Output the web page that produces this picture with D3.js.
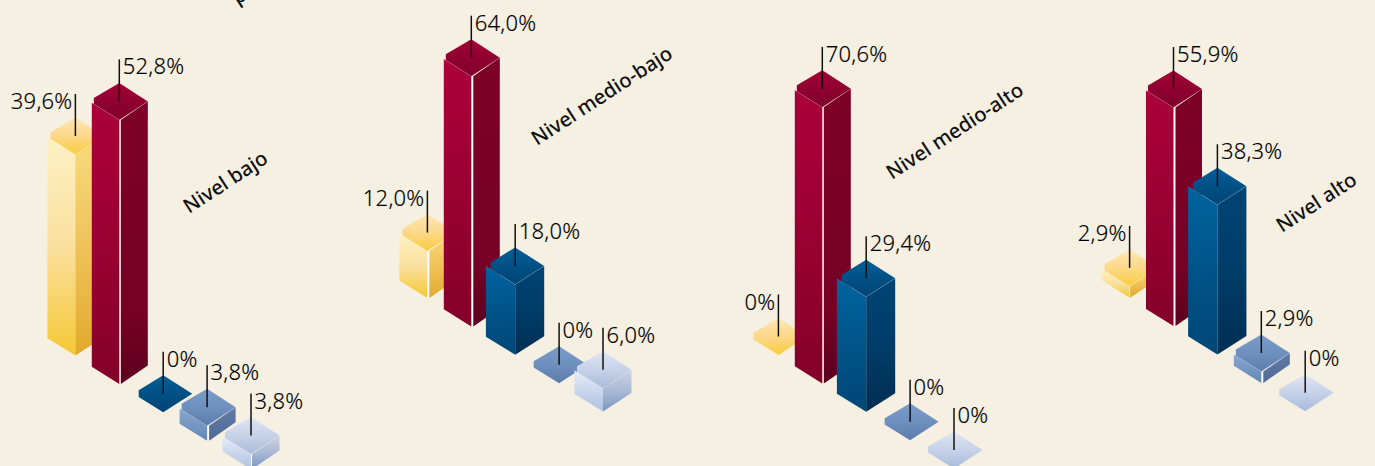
<!DOCTYPE html>
<html>
<head>
<meta charset="utf-8">
<script src="https://cdn.jsdelivr.net/npm/d3@7"></script>
<style>
  html, body { margin: 0; padding: 0; background: #f5f0e2; overflow: hidden; }
  svg { display: block; }
  text { font-family: "Noto Sans", sans-serif; fill: #000; }
  .level { font-size: 20.2px; font-weight: 500; fill: #111; }
  .value { font-size: 22px; font-weight: 300; letter-spacing: 0.2px; stroke: #000; stroke-width: 0.15px; }
</style>
</head>
<body>
<svg></svg>
<script>
// values per level, in bar order
const barNames = ["amarillo", "rojo", "azul", "azul medio", "azul claro"];
const levelNames = ["Nivel bajo", "Nivel medio-bajo", "Nivel medio-alto", "Nivel alto"];
const nivelBajo = [39.6, 52.8, 0, 3.8, 3.8];
const nivelMedioBajo = [12.0, 64.0, 18.0, 0, 6.0];
const nivelMedioAlto = [0, 70.6, 29.4, 0, 0];
const nivelAlto = [2.9, 55.9, 38.3, 2.9, 0];
const levelValues = [nivelBajo, nivelMedioBajo, nivelMedioAlto, nivelAlto];

// layout of each level: front-bottom corner of its first bar
const levelOrigins = [[75.4, 355.5], [427.4, 298], [778.4, 355], [1129.6, 297.7]];
const levelLabelPos = [[189, 214], [537, 146], [892, 180], [1282, 233]];
// white slit between the two faces
const slitWidths = [[0, 1.5, 0, 2, 1], [2, 2, 0, 0, 0], [0, 1.5, 0, 0, 0], [0.5, 2, 0, 2, 0]];
// half widths of each bar colour, the blue one is a bit fatter
const halfLefts = [28, 27.5, 29.3, 27.5, 28.5];
const halfRights = [28.5, 28.5, 29, 28.5, 28.5];
const trimLefts = [25, 25.5, 24.5, 25.5, 26];

let svgWidth = 1375;
let svgHeight = 466;
let halfDepth = 18.5;

// the first level was drawn taller than the others in the source picture
let heightScales = [
    d3.scaleLinear().domain([0, 3.8, 39.6, 52.8]).range([0, 15, 201, 264]),
    d3.scaleLinear().domain([0, 100]).range([0, 391]),
    d3.scaleLinear().domain([0, 100]).range([0, 391]),
    d3.scaleLinear().domain([0, 100]).range([0, 391])
];
let stepX = d3.scalePoint().domain(barNames).range([0, 175.6]);
let stepY = d3.scalePoint().domain(barNames).range([0, 113.6]);

let ramps = {
    "amarillo": {
        left: ["#fdf1c4", "#fae09f", "#f5c835"],
        right: ["#f8da7c", "#f0c35a", "#e1aa2c"],
        top: ["#fee8b4", "#fbd88a", "#f9cd3a"]
    },
    "rojo": {
        left: ["#ab003a", "#9a0033", "#83002a"],
        right: ["#7d0029", "#7c0028", "#790027", "#770027", "#5c001f"],
        top: ["#a50036", "#8f0030", "#7e002b"]
    },
    "azul": {
        left: ["#00639f", "#00548a", "#004776"],
        right: ["#004474", "#003d69", "#002e53"],
        top: ["#00609a", "#005085", "#004474"]
    },
    "azul medio": {
        left: ["#8ba6ce", "#7696c3", "#6586b5"],
        right: ["#5f7aa5", "#58739d", "#4f6a94"],
        top: ["#7b9bc8", "#6f90bf", "#5c7cab"]
    },
    "azul claro": {
        left: ["#e7edf9", "#c9d6ec", "#afc2e0"],
        right: ["#cfd4e3", "#aab9d6", "#7a96c2"],
        top: ["#e0e5f3", "#c6d2e8", "#a8bbda"]
    }
};

let line = d3.line();
let formatValue = d3.formatLocale({ decimal: ",", thousands: ".", grouping: [3], currency: ["", ""] }).format(".1f");
let valueText = function(v) {
    return v === 0 ? "0%" : formatValue(v) + "%";
};

let svg = d3.select("svg").attr("width", svgWidth).attr("height", svgHeight);
svg.append("rect").attr("width", svgWidth).attr("height", svgHeight).attr("fill", "#f5f0e2");

// one vertical gradient per bar colour and face
let defs = svg.append("defs");
barNames.forEach(function(name, i) {
    ["left", "right", "top"].forEach(function(face) {
        let stops = ramps[name][face];
        let grad = defs.append("linearGradient")
            .attr("id", "g" + i + face)
            .attr("x1", 0).attr("y1", 0).attr("x2", 0).attr("y2", 1);
        grad.selectAll("stop")
            .data(stops).enter().append("stop")
            .attr("offset", (d, k) => k / (stops.length - 1))
            .attr("stop-color", d => d);
    });
});

levelValues.forEach(function(values, li) {
    let g = svg.append("g").attr("class", "level-group");
    let origin = levelOrigins[li];
    let h = heightScales[li];

    let bars = g.selectAll("g.bar")
        .data(values.map((v, i) => ({ name: barNames[i], index: i, value: v })))
        .enter().append("g").attr("class", "bar");

    bars.each(function(d) {
        let bar = d3.select(this);
        let cx = origin[0] + stepX(d.name);
        let bottom = origin[1] + stepY(d.name);
        let front = bottom - h(d.value);
        let slit = slitWidths[li][d.index];
        let halfLeft = halfLefts[d.index];
        let halfRight = halfRights[d.index];
        let trim = trimLefts[d.index];
        let rise = halfLeft * 0.62;

        if (d.value > 0) {
            if (slit > 0) {
                bar.append("rect")
                    .attr("x", cx - 0.5).attr("y", front)
                    .attr("width", slit + 0.5).attr("height", bottom - front)
                    .attr("fill", "#fff");
            }
            bar.append("path")
                .attr("d", line([[cx - halfLeft, front - rise], [cx, front], [cx, bottom], [cx - halfLeft, bottom - rise]]) + "Z")
                .attr("fill", "url(#g" + d.index + "left)");
            bar.append("path")
                .attr("d", line([[cx + slit, front], [cx + halfRight, front - halfDepth], [cx + halfRight, bottom - halfDepth], [cx + slit, bottom]]) + "Z")
                .attr("fill", "url(#g" + d.index + "right)");
        }
        bar.append("path")
            .attr("d", line([
                [cx, front - 2 * halfDepth],
                [cx + halfRight, front - halfDepth],
                [cx, front],
                [cx - trim, front - trim * 0.62],
                [cx - trim, front - 22]
            ]) + "Z")
            .attr("fill", "url(#g" + d.index + "top)");
        if (d.value > 0) {
            bar.append("path")
                .attr("d", line([[cx - halfLeft, front - rise], [cx, front], [cx + halfRight, front - halfDepth]]))
                .attr("fill", "none")
                .attr("stroke", "#fff")
                .attr("stroke-opacity", 0.2)
                .attr("stroke-width", 0.7);
        }

        // leader and value
        let centerY = front - halfDepth;
        bar.append("line")
            .attr("x1", cx).attr("x2", cx)
            .attr("y1", centerY).attr("y2", centerY - 42)
            .attr("stroke", "#111")
            .attr("stroke-width", 1.5);
        bar.append("text")
            .attr("class", "value")
            .attr("x", d.index === 0 ? cx - 3 : cx + 3.5)
            .attr("y", centerY - 27)
            .attr("text-anchor", d.index === 0 ? "end" : "start")
            .text(valueText(d.value));
    });

    g.append("text")
        .attr("class", "level")
        .attr("transform", "translate(" + levelLabelPos[li] + ") rotate(-33)")
        .text(levelNames[li]);
});

// piece of a title cut off by the top of the picture
svg.append("text")
    .attr("class", "level")
    .attr("transform", "translate(237.5,5) rotate(-33)")
    .text("p");
</script>
</body>
</html>
